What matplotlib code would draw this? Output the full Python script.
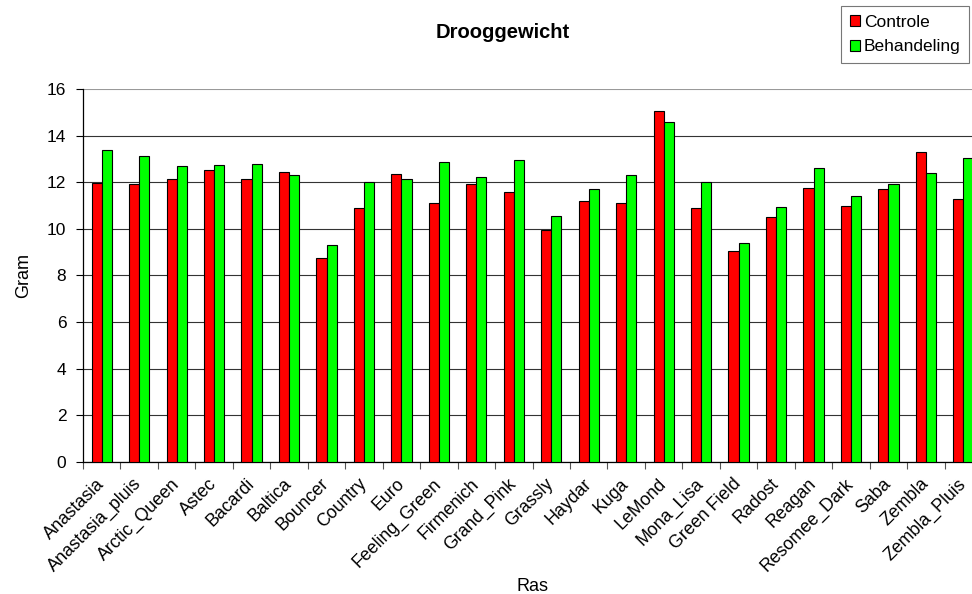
import numpy as np
import matplotlib.pyplot as plt
from matplotlib.patches import Patch

plt.rcParams['font.family'] = ['Liberation Sans', 'DejaVu Sans']

rassen = ['Anastasia', 'Anastasia_pluis', 'Arctic_Queen', 'Astec', 'Bacardi',
          'Baltica', 'Bouncer', 'Country', 'Euro', 'Feeling_Green', 'Firmenich',
          'Grand_Pink', 'Grassly', 'Haydar', 'Kuga', 'LeMond', 'Mona_Lisa',
          'Green Field', 'Radost', 'Reagan', 'Resomee_Dark', 'Saba', 'Zembla',
          'Zembla_Pluis']
controle = [11.96, 11.92, 12.13, 12.52, 12.13, 12.44, 8.74, 10.89, 12.36, 11.09,
            11.92, 11.56, 9.94, 11.19, 11.09, 15.06, 10.89, 9.07, 10.53, 11.76,
            10.97, 11.73, 13.28, 11.26]
behandeling = [13.38, 13.12, 12.69, 12.74, 12.77, 12.32, 9.30, 12.01, 12.13, 12.88,
               12.23, 12.95, 10.54, 11.72, 12.32, 14.60, 12.01, 9.38, 10.95, 12.62,
               11.43, 11.92, 12.38, 13.02]

x = np.arange(len(rassen))
w = 0.27

fig = plt.figure(figsize=(9.72, 5.94), dpi=100)
# axes run past the right edge, like the cropped original
ax = fig.add_axes([0.0854, 0.2222, 0.925, 0.628])

ax.bar(x - w / 2, controle, w, color='#ff0000', edgecolor='black', linewidth=0.8, zorder=3)
ax.bar(x + w / 2, behandeling, w, color='#00ff00', edgecolor='black', linewidth=0.8, zorder=3)

ax.set_xlim(-0.5, len(rassen) - 0.5)
ax.set_ylim(0, 16)
ax.set_yticks(np.arange(0, 17, 2))
ax.yaxis.grid(True, color='#333333', linewidth=0.8, zorder=0)
ax.get_ygridlines()[-1].set_color('#999999')
ax.tick_params(axis='y', labelsize=12.5, length=5, width=0.8, direction='out', pad=7)

ax.set_xticks(x)
ax.set_xticklabels(rassen, rotation=45, ha='right', va='center', rotation_mode='anchor',
                   fontsize=12.8)
ax.set_xticks(np.arange(-0.5, len(rassen), 1), minor=True)
ax.tick_params(axis='x', which='major', length=0, pad=14)
ax.tick_params(axis='x', which='minor', length=5, width=0.8, color='#555555')

for s in ['top', 'right']:
    ax.spines[s].set_visible(False)
ax.spines['left'].set_linewidth(0.9)
ax.spines['bottom'].set_linewidth(0.9)

ax.set_ylabel('Gram', fontsize=13, labelpad=11)
ax.set_xlabel('Ras', fontsize=13, labelpad=2)

fig.text(0.517, 0.946, 'Drooggewicht', ha='center', va='center', fontsize=14.5, fontweight='bold')

handles = [Patch(facecolor='#ff0000', edgecolor='black', linewidth=0.8, label='Controle'),
           Patch(facecolor='#00ff00', edgecolor='black', linewidth=0.8, label='Behandeling')]
leg = fig.legend(handles=handles, loc='upper right', bbox_to_anchor=(0.997, 0.99),
                 fontsize=12.5, frameon=True, fancybox=False, handlelength=0.6,
                 handleheight=0.6, handletextpad=0.2, borderpad=0.5, labelspacing=0.55,
                 borderaxespad=0)
leg.get_frame().set_edgecolor('#555555')
leg.get_frame().set_linewidth(0.8)

fig.savefig('out.png', dpi=100)
